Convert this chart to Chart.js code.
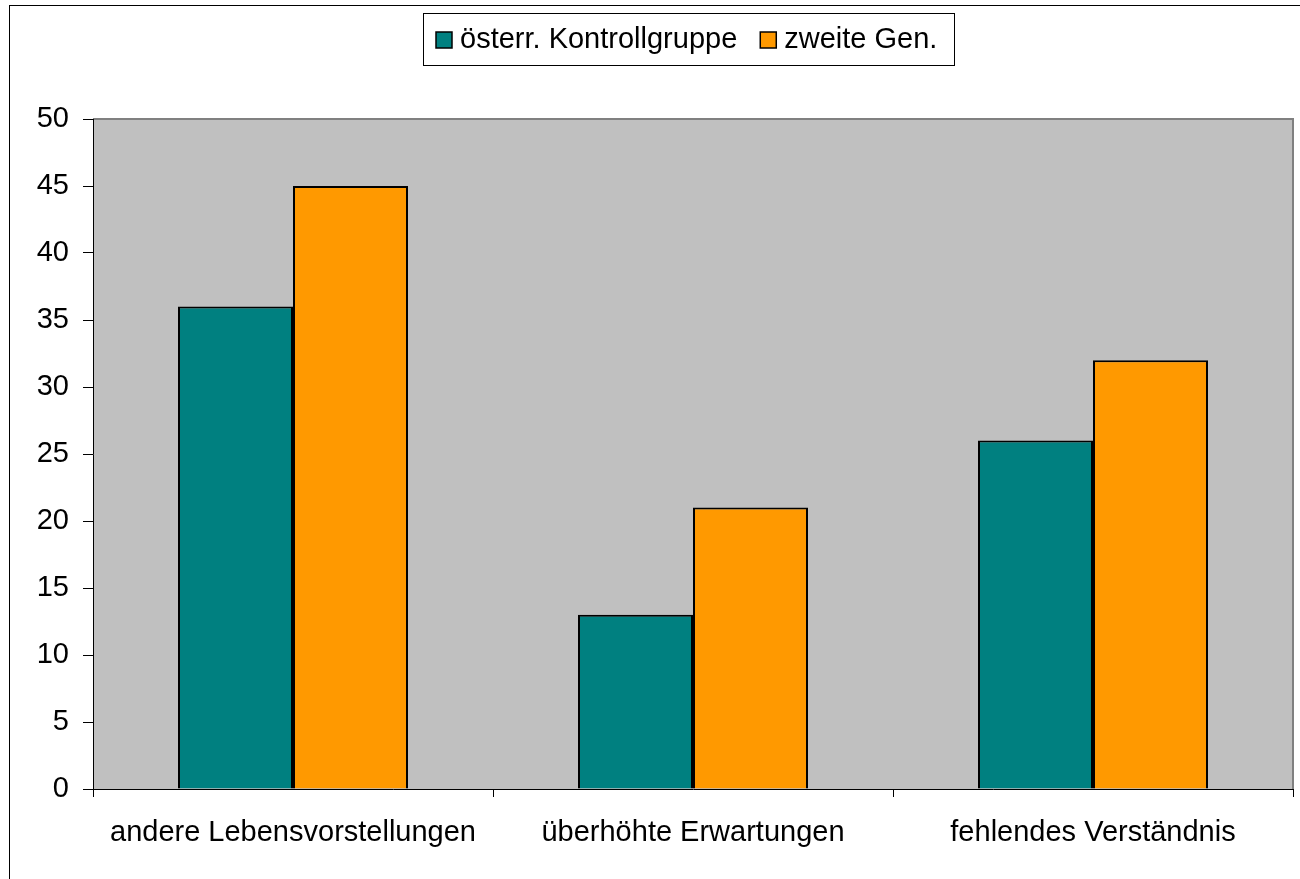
<!DOCTYPE html>
<html>
<head>
<meta charset="utf-8">
<script src="https://cdn.jsdelivr.net/npm/chart.js@4"></script>
<style>
  html, body { margin: 0; padding: 0; background: #fff; }
  #wrap { width: 1300px; height: 879px; }
</style>
</head>
<body>
<div id="wrap"><canvas id="chart" width="1300" height="879"></canvas></div>
<script>
// data
const categories = ['andere Lebensvorstellungen', 'überhöhte Erwartungen', 'fehlendes Verständnis'];
const kontrollgruppe = [36, 13, 26];
const zweiteGen = [45, 21, 32];
const seriesNames = ['österr. Kontrollgruppe', 'zweite Gen.'];

const FONT = '"Liberation Sans", Arial, sans-serif';
const FONT_SIZE = 29;

// grey plot area, outer frame and the boxed legend on top
const framePlugin = {
    id: 'frames',
    beforeDraw(chart) {
        const { ctx, chartArea: a } = chart;
        ctx.save();
        ctx.fillStyle = '#fff';
        ctx.fillRect(0, 0, chart.width, chart.height);
        ctx.strokeStyle = '#000';
        ctx.lineWidth = 1;
        ctx.strokeRect(9.5, 5.5, 1400, 1000);
        ctx.fillStyle = '#C0C0C0';
        ctx.fillRect(a.left, a.top, a.right - a.left, a.bottom - a.top);
        ctx.strokeStyle = '#808080';
        ctx.lineWidth = 2;
        ctx.beginPath();
        ctx.moveTo(a.left, a.top);
        ctx.lineTo(a.right, a.top);
        ctx.lineTo(a.right, a.bottom);
        ctx.stroke();
        ctx.restore();
    },
    afterDraw(chart) {
        const { ctx } = chart;
        const sets = chart.data.datasets;
        ctx.save();
        ctx.font = FONT_SIZE + 'px ' + FONT;
        ctx.textBaseline = 'middle';
        let x = 436;
        const midY = 40;
        const spans = [];
        sets.forEach((ds) => {
            const w = ctx.measureText(ds.label).width;
            spans.push([x, w]);
            x += 24 + w + 23;
        });
        const last = spans[spans.length - 1];
        const right = Math.round(last[0] + 24 + last[1] + 17);
        ctx.fillStyle = '#fff';
        ctx.fillRect(423.5, 13.5, right - 423, 52);
        ctx.strokeStyle = '#000';
        ctx.lineWidth = 1;
        ctx.strokeRect(423.5, 13.5, right - 423, 52);
        sets.forEach((ds, i) => {
            const [sx] = spans[i];
            ctx.fillStyle = ds.backgroundColor;
            ctx.fillRect(sx, midY - 8, 16, 16);
            ctx.strokeStyle = '#000';
            ctx.lineWidth = 1.5;
            ctx.strokeRect(sx, midY - 8, 16, 16);
            ctx.fillStyle = '#000';
            ctx.fillText(ds.label, sx + 24, midY);
        });
        ctx.restore();
    }
};

new Chart(document.getElementById('chart'), {
    type: 'bar',
    data: {
        labels: categories,
        datasets: [
            {
                label: seriesNames[0],
                data: kontrollgruppe,
                backgroundColor: '#008080',
                borderColor: '#000',
                borderWidth: 2
            },
            {
                label: seriesNames[1],
                data: zweiteGen,
                backgroundColor: '#FF9900',
                borderColor: '#000',
                borderWidth: 2
            }
        ]
    },
    options: {
        responsive: false,
        animation: false,
        categoryPercentage: 0.575,
        barPercentage: 1,
        layout: {
            padding: { left: 0, right: 7, top: 119, bottom: 0 }
        },
        plugins: {
            tooltip: { enabled: false },
            legend: { display: false }
        },
        scales: {
            x: {
                afterFit(scale) { scale.height = 90; },
                grid: {
                    drawOnChartArea: false,
                    drawTicks: true,
                    tickLength: 8,
                    color: '#000',
                    offset: true
                },
                border: { display: true, color: '#000', width: 1 },
                ticks: {
                    color: '#000',
                    font: { family: FONT, size: FONT_SIZE },
                    padding: 19,
                    maxRotation: 0
                }
            },
            y: {
                min: 0,
                max: 50,
                afterFit(scale) { scale.width = 93; },
                grid: {
                    drawOnChartArea: false,
                    drawTicks: true,
                    tickLength: 10,
                    color: '#000'
                },
                border: { display: true, color: '#000', width: 1 },
                ticks: {
                    stepSize: 5,
                    color: '#000',
                    font: { family: FONT, size: FONT_SIZE },
                    padding: 14
                }
            }
        }
    },
    plugins: [framePlugin]
});
</script>
</body>
</html>
